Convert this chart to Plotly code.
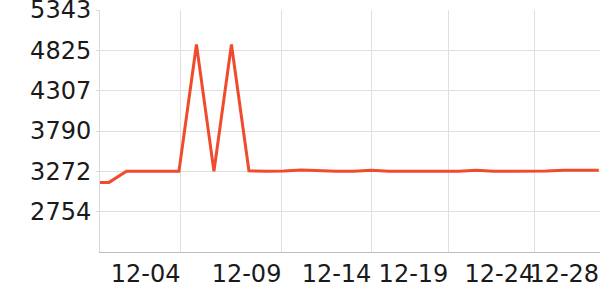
import plotly.graph_objects as go

# data
point_index = list(range(30))
values = [3130, 3130, 3272, 3272, 3272, 3272, 4900, 3272, 4900, 3280,
          3272, 3275, 3288, 3278, 3272, 3272, 3285, 3272, 3272, 3272,
          3272, 3272, 3285, 3272, 3272, 3272, 3275, 3285, 3285, 3285]
x_tick_pos = [5.114, 10.886, 16.03, 20.43, 25.34, 29.05]
x_tick_text = ["12-04", "12-09", "12-14", "12-19", "12-24", "12-28"]
y_ticks = [2754, 3272, 3790, 4307, 4825, 5343]
y_range = [2236, 5344]
x_range = [0.486, 29.07]

fig = go.Figure()
fig.add_trace(go.Scatter(x=point_index, y=values, mode="lines",
                         line=dict(color="#F04B2D", width=3), hoverinfo="skip"))

font = dict(family="DejaVu Sans", size=24, color="#1a1a1a")
fig.update_layout(
    width=600, height=300,
    margin=dict(l=100, r=0, t=10, b=48),
    plot_bgcolor="white", paper_bgcolor="white",
    showlegend=False, font=font,
    xaxis=dict(range=x_range, tickmode="array", tickvals=x_tick_pos, ticktext=x_tick_text,
               ticklabelposition="outside left", ticklabeloverflow="allow", tickangle=0,
               automargin=False,
               showgrid=True, gridcolor="#e0e0e0", gridwidth=1,
               showline=True, linecolor="#bdbdbd", linewidth=1, ticks="", zeroline=False,
               tickfont=font),
    yaxis=dict(range=y_range, tickmode="array", tickvals=y_ticks, ticklabeloverflow="allow",
               automargin=False,
               showgrid=True, gridcolor="#e0e0e0", gridwidth=1,
               showline=True, linecolor="#d9d9d9", linewidth=1,
               ticks="outside", ticklen=3, tickcolor="#d9d9d9", zeroline=False,
               tickfont=font),
)
fig.write_html("out.html")
